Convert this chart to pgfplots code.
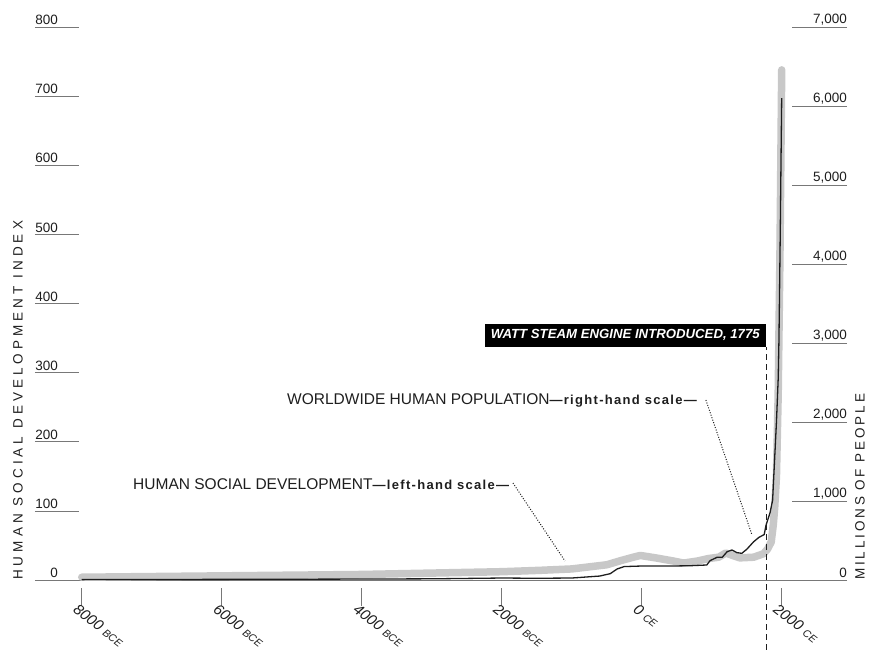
\documentclass[border=0pt]{standalone}
\usepackage{fontspec}
\setmainfont{Liberation Sans}
\newfontfamily\spaced[LetterSpace=30]{Liberation Sans}
\newfontfamily\spacedb[LetterSpace=21]{Liberation Sans}
\newfontfamily\annot[LetterSpace=10]{Liberation Sans}
\usepackage{pgfplots}
\usepackage{pgfplotstable}
\pgfplotsset{compat=1.18}
\definecolor{sdgray}{RGB}{200,200,200}
\definecolor{ink}{RGB}{30,30,30}
\definecolor{tickgray}{RGB}{120,120,120}
\newcommand\era[1]{{\fontsize{10.5}{10.5}\selectfont #1}}

\pgfplotstableread{
year sd
-8000 4
-7000 5
-6000 6
-5000 7
-4000 8
-3000 10
-2000 12
-1450 14
-1000 16
-500 22
-300 28
-120 33
-20 35.5
200 32
450 27.5
600 24.5
800 27.5
950 31
1100 33
1200 39
1300 35.5
1400 32
1600 33
1740 38
1800 45
1850 55
1880 80
1900 105
1925 150
1950 270
1975 470
2000 738
}\sdtable

\pgfplotstableread{
year pop
-8000 5
-6000 8
-4000 12
-3000 15
-2000 25
-1500 22
-1000 25
-600 50
-450 80
-350 140
-250 170
0 177
450 177
700 181
930 190
976 245
1076 287
1150 287
1220 358
1290 380
1360 346
1430 338
1500 388
1600 485
1675 540
1750 575
1775 690
1800 760
1833 850
1870 1010
1900 1550
1925 2000
1950 2550
1960 3000
1970 3700
1980 4450
1990 5300
2000 6100
}\poptable

\begin{document}
\begin{tikzpicture}
\pgfplotsset{
  base/.style={
    at={(0,0)}, anchor=south west, scale only axis,
    width=768pt, height=553pt,
    xmin=-8039, xmax=2933,
    clip=false,
    /pgf/number format/assume math mode=true,
    tick style={tickgray, line width=0.7pt},
    axis line style={-},
  }
}
% left scale: social development
\begin{axis}[base, ymin=0, ymax=800,
  axis x line*=bottom, axis y line*=left,
  y axis line style={draw=none},
  x axis line style={draw=tickgray, line width=1pt},
  xtick=\empty,
  ytick={0,100,...,800},
  tick align=outside, major tick length=44pt,
  yticklabel style={anchor=south east, inner sep=0pt, xshift=23pt, yshift=2pt, text=ink, font=\fontsize{13.5}{13.5}\selectfont},
]
\addplot[sdgray, line width=7.5pt, line join=round, line cap=round] table[x=year,y=sd]{\sdtable};

\node[anchor=base west, inner sep=0pt, text=ink, font=\fontsize{15.5}{16}\selectfont] at (axis cs:-7267,131.6)
  {HUMAN SOCIAL DEVELOPMENT{\annot\bfseries\fontsize{13}{13}\selectfont —left-hand scale—}};
\draw[ink, dash pattern=on 1pt off 1.6pt, line width=1pt] (axis cs:-1839,140.3) -- (axis cs:-1096,27.5);

\node[anchor=base west, inner sep=0pt, text=ink, font=\fontsize{15.5}{16}\selectfont] at (axis cs:-5067,253.2)
  {WORLDWIDE HUMAN POPULATION{\annot\bfseries\fontsize{13}{13}\selectfont —right-hand scale—}};
\draw[ink, dash pattern=on 1pt off 1.6pt, line width=1pt] (axis cs:917,260.4) -- (axis cs:1576,65.1);

\draw[ink, dash pattern=on 6pt off 4pt, line width=0.9pt] (axis cs:1775,-101) -- (axis cs:1775,337);
\node[fill=black, text=white, anchor=south east, inner xsep=6pt, inner ysep=0pt, minimum height=23pt,
  font=\bfseries\itshape\fontsize{13.2}{14}\selectfont] at (axis cs:1775,337) {WATT STEAM ENGINE INTRODUCED, 1775};

\node[rotate=90, anchor=west, inner sep=0pt, text=ink, font=\spaced\fontsize{13.5}{14}\selectfont]
  at ([xshift=-61pt]rel axis cs:0,0) {HUMAN SOCIAL DEVELOPMENT INDEX};
\node[rotate=90, anchor=west, inner sep=0pt, text=ink, font=\spacedb\fontsize{13.5}{14}\selectfont]
  at ([xshift=13pt]rel axis cs:1,0) {MILLIONS OF PEOPLE};
\end{axis}

% right scale: population
\begin{axis}[base, ymin=0, ymax=7000,
  axis x line=none, axis y line*=right,
  y axis line style={draw=none},
  ytick={0,1000,...,7000},
  scaled y ticks=false,
  /pgf/number format/1000 sep={,},
  tick align=inside, major tick length=55pt,
  yticklabel style={anchor=south east, inner sep=0pt, yshift=2pt, text=ink, font=\fontsize{13.5}{13.5}\selectfont},
]
\addplot[ink, line width=1.3pt, line join=round] table[x=year,y=pop]{\poptable};
\end{axis}

% x ticks
\begin{axis}[base, ymin=0, ymax=1,
  axis y line=none, axis x line*=bottom,
  x axis line style={draw=none},
  xtick={-8000,-6000,...,2000},
  xticklabels={{8000 \era{BCE}},{6000 \era{BCE}},{4000 \era{BCE}},{2000 \era{BCE}},{0 \era{CE}},{2000 \era{CE}}},
  tick align=inside, major tick length=18pt,
  xtick style={yshift=-26pt},
  xticklabel style={xshift=-3pt, yshift=-23pt, rotate=-38, anchor=north west, inner sep=0pt, text=ink, font=\itshape\fontsize{15}{15}\selectfont},
]
\end{axis}

\pgfresetboundingbox
\path[use as bounding box] (-79pt,-70pt) rectangle (793pt,580pt);
\end{tikzpicture}
\end{document}
